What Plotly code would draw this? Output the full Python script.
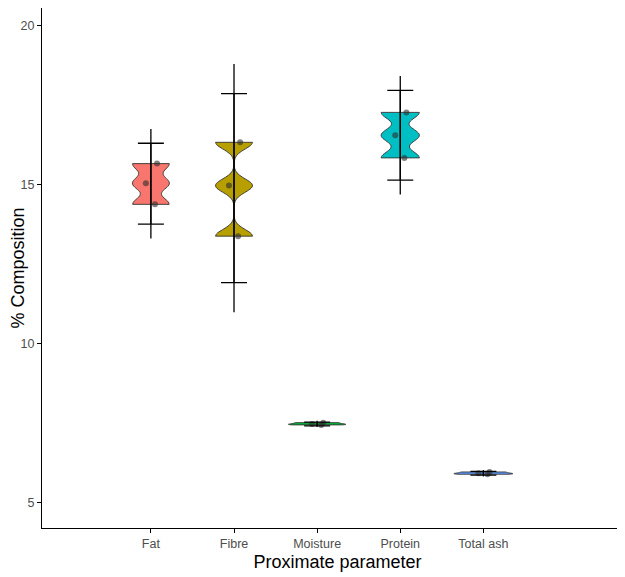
import plotly.graph_objects as go

# proximate composition, three replicates per parameter (%)
categories = ['Fat', 'Fibre', 'Moisture', 'Protein', 'Total ash']
replicates = [
    [15.66, 15.04, 14.38],
    [16.33, 14.97, 13.38],
    [7.52, 7.48, 7.45],
    [17.27, 16.55, 15.84],
    [5.97, 5.93, 5.90],
]
means = [15.03, 14.89, 7.48, 16.55, 5.93]
sd2 = [1.27, 2.97, 0.06, 1.41, 0.06]      # mean +/- 2 SD (capped bars)
ci95 = [1.72, 3.90, 0.10, 1.86, 0.10]     # 95% CI line range

fills = ['#F8766D', '#B79F00', '#00BA38', '#00BFC4', '#619CFF']
widths = [0.445, 0.445, 0.69, 0.46, 0.71]
bandwidths = [0.21, 0.21, 0.02, 0.21, 0.02]

fig = go.Figure()

for cat, vals, col, w, bw in zip(categories, replicates, fills, widths, bandwidths):
    fig.add_trace(go.Violin(
        x=[cat] * len(vals), y=vals,
        width=w, bandwidth=bw, spanmode='hard', scalemode='width',
        fillcolor=col, opacity=1,
        line=dict(color='#333333', width=0.9),
        points='all', pointpos=0, jitter=0.19 / w,
        marker=dict(color='rgba(45,45,45,0.6)', size=6),
        box_visible=False, meanline_visible=False,
        showlegend=False, hoverinfo='y',
    ))

# 95% CI line range (no caps)
fig.add_trace(go.Scatter(
    x=categories, y=means, mode='markers',
    marker=dict(size=1, opacity=0),
    error_y=dict(type='data', array=ci95, color='black', thickness=1.3, width=0),
    showlegend=False, hoverinfo='skip',
))
# mean +/- 2 SD with caps
fig.add_trace(go.Scatter(
    x=categories, y=means, mode='markers',
    marker=dict(size=1, opacity=0),
    error_y=dict(type='data', array=sd2, color='black', thickness=1.3, width=13),
    showlegend=False, hoverinfo='skip',
))

axis_font = dict(family='Arial, Liberation Sans, sans-serif', size=12.5, color='#4D4D4D')
title_font = dict(family='Arial, Liberation Sans, sans-serif', size=18, color='black')

fig.update_layout(
    width=625, height=577,
    margin=dict(l=34, r=0, t=0, b=57),
    paper_bgcolor='white', plot_bgcolor='white',
    violinmode='overlay',
    xaxis=dict(
        type='category', range=[-1.31, 5.8], automargin=False,
        showline=True, linecolor='black', linewidth=1,
        ticks='outside', ticklen=4, tickcolor='black',
        tickfont=axis_font, showgrid=False, zeroline=False,
        title=dict(text='Proximate parameter', font=title_font, standoff=5),
    ),
    yaxis=dict(
        range=[4.21, 20.55], tickvals=[5, 10, 15, 20], automargin=False,
        showline=True, linecolor='black', linewidth=1,
        ticks='outside', ticklen=4, tickcolor='black',
        tickfont=axis_font, showgrid=False, zeroline=False,
        title=dict(text='% Composition', font=title_font, standoff=0),
    ),
)

fig.write_html("out.html")
